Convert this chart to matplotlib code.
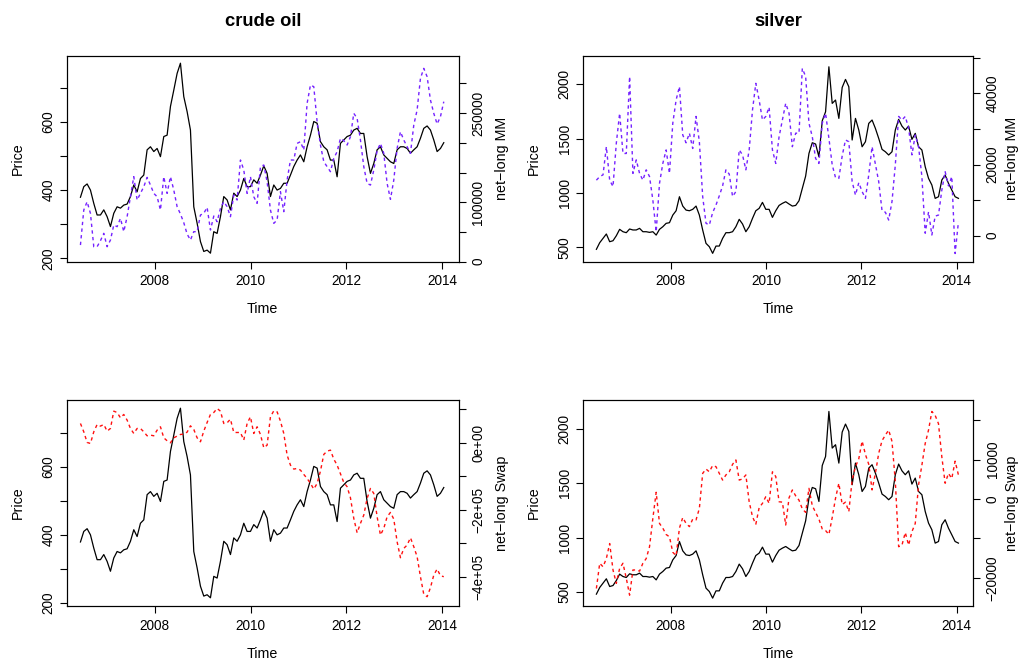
import numpy as np
import matplotlib.pyplot as plt

plt.rcParams['font.family'] = ['Liberation Sans', 'DejaVu Sans']

# weekly series, every 3.6 weeks
start_year = 2006.447
step_year = 0.0696

crude_price = [379, 410, 418, 400, 361, 327, 327, 342, 322, 293,
               332, 351, 347, 356, 359, 381, 415, 395, 434, 444,
               518, 527, 513, 522, 498, 557, 561, 645, 693, 742,
               772, 674, 630, 576, 351, 303, 249, 220, 224, 215,
               278, 273, 322, 381, 371, 342, 391, 381, 400, 434,
               410, 410, 430, 420, 444, 471, 449, 381, 415, 400,
               405, 420, 420, 444, 469, 488, 503, 483, 527, 561,
               601, 596, 542, 527, 518, 488, 488, 439, 537, 547,
               557, 561, 576, 581, 566, 566, 498, 449, 478, 518,
               527, 503, 493, 483, 478, 518, 527, 527, 522, 508,
               518, 527, 552, 581, 588, 576, 547, 513, 522, 539]

# net-long positions in thousands of contracts
crude_mm = [28.0, 86.9, 100.9, 81.3, 25.2, 25.2, 35.3, 47.7, 25.2, 36.4,
            61.7, 58.9, 72.9, 50.5, 75.7, 109.3, 143.0, 103.7, 114.9, 126.1,
            141.8, 128.9, 114.9, 109.3, 86.9, 143.0, 114.9, 143.0, 120.5, 92.5,
            80.2, 65.6, 46.5, 36.4, 50.5, 50.5, 78.5, 81.3, 91.4, 53.3,
            76.8, 67.3, 89.7, 100.9, 92.5, 75.7, 112.1, 103.7, 171.0, 154.2,
            114.9, 143.0, 109.3, 98.1, 159.8, 162.6, 134.5, 86.9, 64.5, 70.1,
            117.7, 84.1, 137.3, 171.0, 171.0, 199.0, 201.8, 187.8, 266.3, 297.1,
            294.3, 235.5, 196.2, 168.2, 159.8, 151.4, 173.8, 185.0, 207.4, 203.5,
            196.2, 210.2, 249.5, 241.1, 204.6, 159.8, 131.7, 128.9, 154.2, 186.7,
            199.0, 182.2, 131.7, 104.8, 137.3, 190.6, 218.6, 204.6, 193.4, 182.2,
            229.8, 255.1, 308.3, 325.1, 311.1, 271.9, 249.5, 231.5, 243.9, 269.1]

crude_swap = [57.7, 32.8, 1.0, -2.0, 32.8, 54.7, 49.8, 54.7, 34.8, 42.8,
              94.5, 90.5, 74.6, 84.6, 67.7, 42.8, 27.9, 42.8, 42.8, 32.8,
              20.9, 22.9, 20.9, 37.8, 47.8, 14.9, 6.0, 0.0, 14.9, 19.9,
              24.9, 25.9, 31.8, 50.7, 39.8, 14.9, 3.0, 34.8, 60.7, 84.6,
              90.5, 102.5, 94.5, 57.7, 59.7, 70.6, 30.8, 30.8, 30.8, 8.0,
              57.7, 77.6, 27.9, 47.8, 24.9, -14.9, -7.0, 77.6, 95.5, 92.5,
              64.7, 27.9, -36.8, -66.7, -78.6, -76.6, -81.6, -94.5, -106.5, -121.4,
              -138.3, -121.4, -84.6, -34.8, -24.9, -21.9, -48.8, -66.7, -92.5, -118.4,
              -131.3, -164.2, -225.9, -268.7, -240.8, -215.9, -166.2, -136.3, -151.2, -220.9,
              -275.6, -255.7, -220.9, -208.0, -227.9, -295.5, -343.3, -315.4, -305.5, -283.6,
              -310.4, -340.3, -400.0, -452.7, -459.7, -432.8, -395.0, -377.1, -397.0, -400.0]

silver_price = [482, 543, 583, 623, 552, 561, 607, 666, 644, 635,
                669, 660, 660, 675, 644, 644, 638, 644, 613, 666,
                690, 721, 727, 797, 837, 966, 880, 843, 837, 850,
                880, 797, 660, 537, 506, 445, 512, 512, 583, 635,
                635, 644, 690, 758, 715, 644, 690, 767, 837, 859,
                914, 850, 850, 776, 837, 886, 905, 920, 899, 880,
                886, 929, 1043, 1156, 1365, 1463, 1451, 1334, 1665, 1748,
                2162, 1825, 1856, 1687, 1972, 2046, 1978, 1488, 1687, 1580,
                1426, 1472, 1641, 1672, 1595, 1503, 1402, 1380, 1350, 1380,
                1580, 1678, 1616, 1580, 1616, 1494, 1549, 1426, 1396, 1242,
                1135, 1074, 951, 966, 1120, 1166, 1089, 1028, 966, 951]

silver_mm = [15.6, 16.6, 17.1, 25.0, 15.6, 13.8, 26.0, 34.4, 23.1, 23.1,
             44.7, 17.5, 21.3, 17.5, 15.6, 18.5, 16.6, 10.0, 1.1, 14.7,
             20.3, 24.1, 17.5, 31.6, 38.1, 41.9, 28.3, 26.1, 28.8, 24.5,
             33.5, 26.4, 11.0, 3.5, 3.0, 6.5, 8.6, 11.2, 14.0, 18.5,
             17.3, 11.0, 12.4, 24.1, 22.7, 18.5, 24.1, 35.3, 42.8, 38.1,
             32.5, 33.5, 36.1, 24.1, 20.3, 27.8, 32.5, 37.2, 34.4, 25.0,
             28.8, 28.8, 47.0, 44.7, 31.6, 27.8, 21.7, 20.3, 31.6, 34.4,
             27.4, 19.9, 16.3, 16.1, 22.4, 26.9, 26.4, 15.2, 11.4, 14.9,
             12.4, 10.5, 17.1, 25.0, 20.1, 15.2, 7.0, 6.6, 4.4, 9.6,
             19.9, 33.5, 32.5, 33.5, 30.2, 22.7, 28.3, 25.0, 16.6, 0.7,
             6.7, 0.2, 5.5, 5.8, 12.8, 18.0, 14.0, 16.6, -5.0, 3.9]

silver_swap = [-22.7, -16.3, -17.2, -15.1, -11.3, -18.0, -21.4, -17.6, -16.3, -20.1,
               -24.4, -18.0, -18.0, -18.3, -16.3, -15.1, -12.1, -4.9, 1.7, -6.2,
               -7.4, -9.0, -9.6, -13.5, -14.4, -7.4, -4.7, -6.2, -7.0, -5.1,
               -5.3, -2.4, 6.5, 7.6, 6.9, 8.5, 8.2, 6.5, 4.8, 6.1,
               6.9, 8.8, 9.9, 4.8, 5.1, 6.1, -0.7, -4.5, -6.4, -2.2,
               -1.1, 0.6, -1.1, 6.9, 5.7, -0.7, -0.8, -6.6, 0.3, 2.3,
               0.8, -0.3, -2.5, -3.4, 2.7, -1.7, -3.4, -5.1, -7.6, -8.0,
               -9.0, -4.7, 0.2, 4.0, -1.4, -0.8, -3.2, 4.8, 8.2, 10.2,
               14.7, 11.3, 8.8, 2.3, 6.5, 11.6, 14.8, 16.2, 17.5, 14.6,
               4.4, -12.1, -11.7, -8.5, -11.7, -8.3, -6.2, 3.6, 8.6, 14.1,
               17.5, 22.2, 21.2, 19.1, 10.7, 4.0, 6.5, 5.2, 9.6, 6.1]

time = start_year + step_year * np.arange(len(crude_price))

year_ticks = [2008, 2010, 2012, 2014]
MM_COL = '#7522FF'
SWAP_COL = '#FF1010'
FS = 9.8


def style_axis(ax):
    for sp in ax.spines.values():
        sp.set_color('black')
        sp.set_linewidth(0.8)
    ax.tick_params(direction='out', length=5, width=0.8, labelsize=FS, colors='black')


def draw_panel(ax, price, other, color, plim, pticks, plabels,
               olim, oticks, olabels, rlabel, rlabel_x, title=None):
    ax.plot(time, price, color='black', lw=0.9)
    ax.set_xlim(2006.16, 2014.345)
    ax.set_ylim(*plim)
    ax.set_xticks(year_ticks)
    ax.set_xticklabels([str(y) for y in year_ticks])
    ax.set_yticks(pticks)
    ax.set_yticklabels(plabels, rotation=90, va='center')
    ax.set_xlabel('Time', fontsize=10.3, va='center')
    ax.xaxis.set_label_coords(0.5, -0.23)
    ax.set_ylabel('Price', fontsize=10.3, va='center')
    ax.yaxis.set_label_coords(-0.125, 0.5)
    ax.tick_params(axis='x', pad=4)
    ax.tick_params(axis='y', pad=3)
    style_axis(ax)

    ax2 = ax.twinx()
    ax2.plot(time, other, color=color, lw=1.0, dashes=(2.4, 2.4))
    ax2.set_ylim(*olim)
    ax2.set_yticks(oticks)
    ax2.set_yticklabels(olabels, rotation=90, va='center')
    ax2.set_ylabel(rlabel, fontsize=10.3, rotation=90, va='center')
    ax2.yaxis.set_label_coords(rlabel_x, 0.5)
    ax2.tick_params(axis='y', pad=4)
    style_axis(ax2)

    if title:
        ax.text(0.5, 1.164, title, transform=ax.transAxes, ha='center', va='center',
                fontsize=13.2, fontweight='bold')


fig = plt.figure(figsize=(10.21, 6.6), dpi=100)

ax_tl = fig.add_axes([0.06533, 0.60348, 0.38394, 0.31212])
ax_tr = fig.add_axes([0.57071, 0.60348, 0.38257, 0.31212])
ax_bl = fig.add_axes([0.06533, 0.08136, 0.38394, 0.31303])
ax_br = fig.add_axes([0.57071, 0.08136, 0.38257, 0.31303])

crude_ticks = [200, 300, 400, 500, 600, 700]
crude_labels = ['200', '', '400', '', '600', '']
silver_ticks = [500, 1000, 1500, 2000]
silver_labels = ['500', '1000', '1500', '2000']

draw_panel(ax_tl, crude_price, np.array(crude_mm) * 1000, MM_COL,
           (190, 794), crude_ticks, crude_labels,
           (0, 346400), [0, 50000, 100000, 150000, 200000, 250000, 300000],
           ['0', '', '100000', '', '', '250000', ''],
           'net\u2212long MM', 1.11, 'crude oil')

draw_panel(ax_tr, silver_price, np.array(silver_mm) * 1000, MM_COL,
           (368, 2264), silver_ticks, silver_labels,
           (-7300, 50560), [0, 10000, 20000, 30000, 40000, 50000],
           ['0', '', '20000', '', '40000', ''],
           'net\u2212long MM', 1.10, 'silver')

draw_panel(ax_bl, crude_price, np.array(crude_swap) * 1000, SWAP_COL,
           (190, 797), crude_ticks, crude_labels,
           (-488400, 128700), [-400000, -300000, -200000, -100000, 0, 100000],
           ['\u22124e+05', '', '\u22122e+05', '', '0e+00', ''],
           'net\u2212long Swap', 1.11)

draw_panel(ax_br, silver_price, np.array(silver_swap) * 1000, SWAP_COL,
           (370, 2270), silver_ticks, silver_labels,
           (-27220, 25190), [-20000, -10000, 0, 10000, 20000],
           ['\u221220000', '', '0', '10000', ''],
           'net\u2212long Swap', 1.10)

fig.savefig('out.png', dpi=100)
